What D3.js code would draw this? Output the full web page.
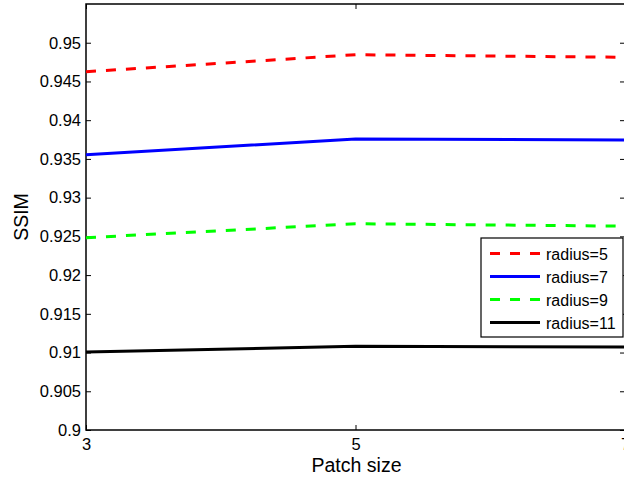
<!DOCTYPE html>
<html>
<head>
<meta charset="utf-8">
<script src="https://cdn.jsdelivr.net/npm/d3@7"></script>
<style>
  body { margin: 0; background: #fff; }
  svg { display: block; font-family: "Liberation Sans", Arial, sans-serif; }
</style>
</head>
<body>
<svg id="chart" width="624" height="478"></svg>
<script>
// patch sizes on the x axis
const patchSizes = [3, 5, 7];
const radius5 = [0.94626, 0.94845, 0.94812];
const radius7 = [0.93554, 0.93757, 0.93744];
const radius9 = [0.92483, 0.92663, 0.92632];
const radius11 = [0.91007, 0.91080, 0.91073];
const seriesNames = ["radius=5", "radius=7", "radius=9", "radius=11"];
const seriesColors = ["#ff0000", "#0000ff", "#00ff00", "#000000"];
const seriesDash = ["10,10", null, "10,10", null];
const yTicks = [0.9, 0.905, 0.91, 0.915, 0.92, 0.925, 0.93, 0.935, 0.94, 0.945, 0.95];

const allSeries = [radius5, radius7, radius9, radius11];

let svg = d3.select("#chart");
let mLeft = 86, mRight = 625, mTop = 4, mBottom = 430;

let x = d3.scaleLinear().domain([3, 7]).range([mLeft, mRight]);
let y = d3.scaleLinear().domain([0.9, 0.955]).range([mBottom, mTop]);

// frame
svg.append("rect")
    .attr("x", mLeft).attr("y", mTop)
    .attr("width", mRight - mLeft).attr("height", mBottom - mTop)
    .attr("fill", "none").attr("stroke", "#000").attr("stroke-width", 1.5);

// axes, ticks pointing inward like matlab
let yAxis = d3.axisLeft(y).tickValues(yTicks).tickSizeInner(-5).tickSizeOuter(0).tickPadding(5)
    .tickFormat(d => d3.format("")(+d.toFixed(3)));
let gy = svg.append("g").attr("transform", "translate(" + mLeft + ",0)").call(yAxis);
gy.select(".domain").remove();
gy.selectAll("text").attr("font-size", 16.5).attr("fill", "#000").attr("font-family", "Liberation Sans, Arial, sans-serif");

let gyr = svg.append("g").attr("transform", "translate(" + mRight + ",0)")
    .call(d3.axisRight(y).tickValues(yTicks).tickSizeInner(-5).tickSizeOuter(0).tickFormat(""));
gyr.select(".domain").remove();

let xAxis = d3.axisBottom(x).tickValues(patchSizes).tickSizeInner(-5).tickSizeOuter(0).tickPadding(8)
    .tickFormat(d3.format("d"));
let gx = svg.append("g").attr("transform", "translate(0," + mBottom + ")").call(xAxis);
gx.select(".domain").remove();
gx.selectAll("text").attr("font-size", 16.5).attr("fill", "#000").attr("font-family", "Liberation Sans, Arial, sans-serif");

let gxt = svg.append("g").attr("transform", "translate(0," + mTop + ")")
    .call(d3.axisTop(x).tickValues(patchSizes).tickSizeInner(-5).tickSizeOuter(0).tickFormat(""));
gxt.select(".domain").remove();

// axis titles
svg.append("text")
    .attr("x", x(5) + 1).attr("y", 472)
    .attr("text-anchor", "middle").attr("font-size", 19.5)
    .text("Patch size");

svg.append("text")
    .attr("transform", "translate(28," + ((mTop + mBottom) / 2) + ") rotate(-90)")
    .attr("text-anchor", "middle").attr("font-size", 19.5)
    .text("SSIM");

// lines
let line = d3.line()
    .x((d, i) => x(patchSizes[i]))
    .y(d => y(d));

allSeries.forEach(function (vals, i) {
    svg.append("path")
        .datum(vals)
        .attr("d", line)
        .attr("fill", "none")
        .attr("stroke", seriesColors[i])
        .attr("stroke-width", 3)
        .attr("stroke-dasharray", seriesDash[i]);
});

// legend
let lg = svg.append("g").attr("transform", "translate(481,238)");
lg.append("rect")
    .attr("width", 142).attr("height", 99)
    .attr("fill", "#fff").attr("stroke", "#000").attr("stroke-width", 1.2);

seriesNames.forEach(function (name, i) {
    let ly = 15.5 + i * 23;
    lg.append("line")
        .attr("x1", 9).attr("x2", 59)
        .attr("y1", ly).attr("y2", ly)
        .attr("stroke", seriesColors[i])
        .attr("stroke-width", 3)
        .attr("stroke-dasharray", seriesDash[i] ? "10,10" : null);
    lg.append("text")
        .attr("x", 65).attr("y", ly + 6)
        .attr("font-size", 16)
        .text(name);
});
</script>
</body>
</html>
